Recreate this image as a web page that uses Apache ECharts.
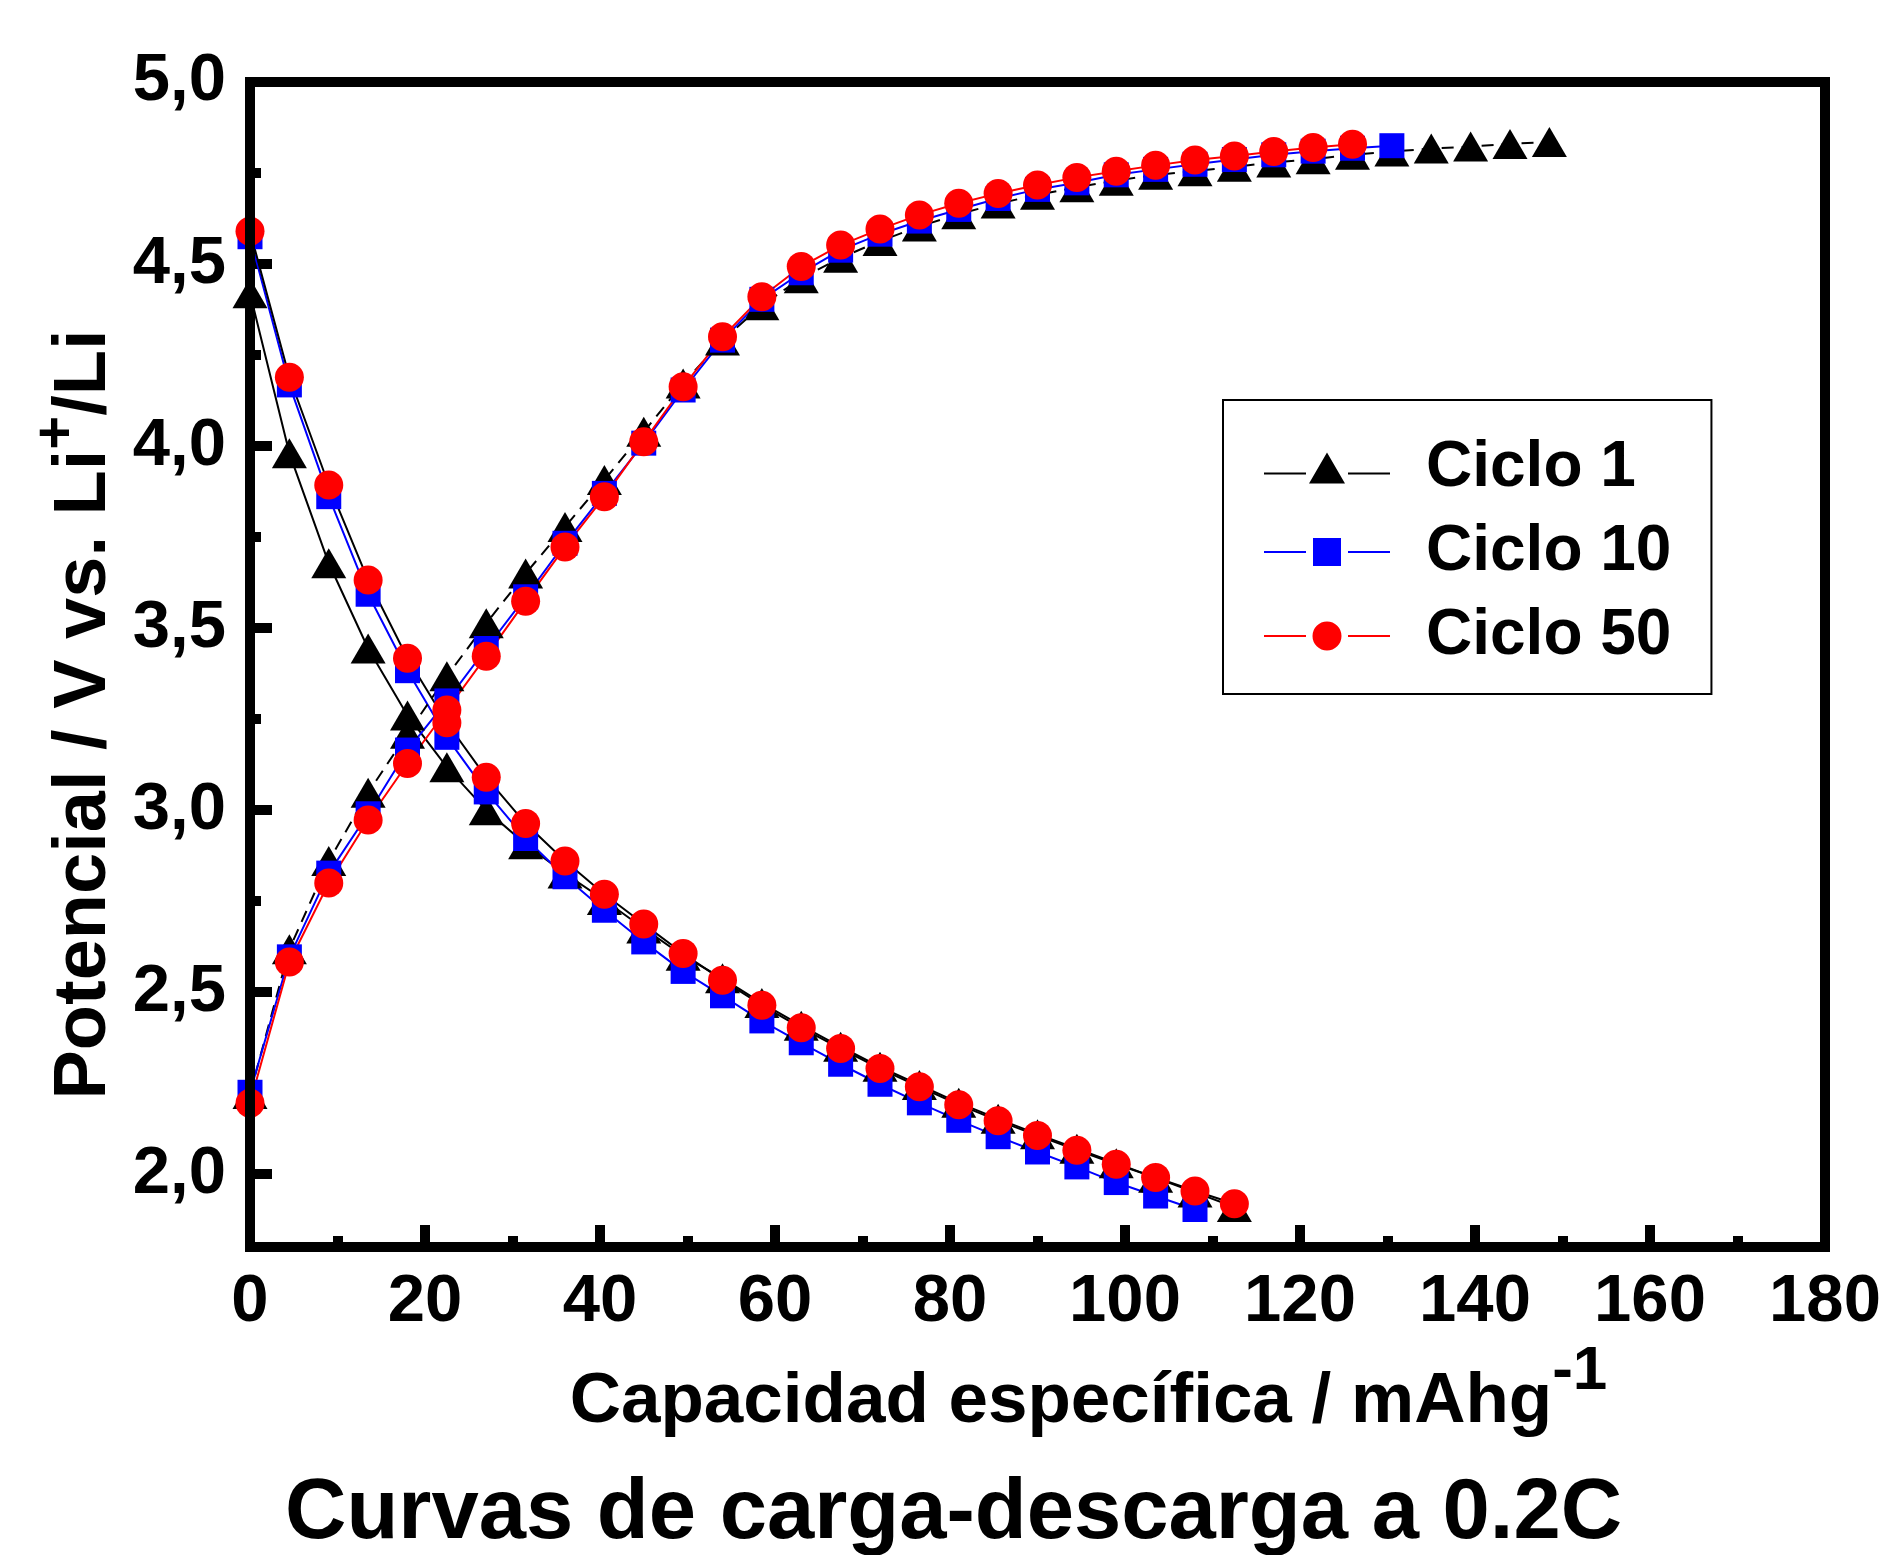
<!DOCTYPE html>
<html>
<head>
<meta charset="utf-8">
<title>Curvas de carga-descarga a 0.2C</title>
<script src="https://cdn.jsdelivr.net/npm/echarts@6/dist/echarts.min.js"></script>
<style>
  html, body { margin: 0; padding: 0; background: #fff; }
  #chart { width: 1884px; height: 1555px; }
</style>
</head>
<body>
<div id="chart"></div>
<script>
// Charge / discharge curves, cycles 1, 10 and 50.
const capacidad = [0, 4.5, 9, 13.5, 18, 22.5, 27, 31.5, 36, 40.5, 45, 49.5, 54, 58.5, 63, 67.5,
  72, 76.5, 81, 85.5, 90, 94.5, 99, 103.5, 108, 112.5, 117, 121.5, 126, 130.5, 135, 139.5, 144, 148.5];

const carga1 = [2.22, 2.618, 2.86, 3.048, 3.21, 3.368, 3.513, 3.65, 3.778, 3.907, 4.039, 4.172, 4.29,
  4.387, 4.461, 4.517, 4.563, 4.603, 4.637, 4.666, 4.69, 4.711, 4.729, 4.745, 4.755, 4.767, 4.779,
  4.788, 4.80, 4.809, 4.817, 4.823, 4.83, 4.835];
const carga10 = [2.225, 2.597, 2.827, 2.99, 3.165, 3.30, 3.444, 3.586, 3.733, 3.87, 4.008, 4.154, 4.291,
  4.403, 4.476, 4.538, 4.582, 4.618, 4.65, 4.68, 4.705, 4.723, 4.745, 4.76, 4.774, 4.787, 4.80, 4.81,
  4.818, 4.825];
const carga50 = [2.195, 2.583, 2.80, 2.973, 3.128, 3.275, 3.423, 3.574, 3.723, 3.861, 4.012, 4.163, 4.30,
  4.41, 4.493, 4.552, 4.596, 4.635, 4.667, 4.694, 4.717, 4.738, 4.755, 4.771, 4.786, 4.797, 4.809,
  4.82, 4.829];

const descarga1 = [4.42, 3.98, 3.678, 3.444, 3.26, 3.118, 3.0, 2.906, 2.826, 2.753, 2.675, 2.60, 2.538,
  2.47, 2.408, 2.35, 2.295, 2.245, 2.196, 2.152, 2.11, 2.07, 2.03, 1.99, 1.95, 1.91];
const descarga10 = [4.575, 4.168, 3.861, 3.593, 3.383, 3.20, 3.05, 2.922, 2.817, 2.725, 2.638, 2.557, 2.49,
  2.421, 2.361, 2.302, 2.247, 2.196, 2.148, 2.103, 2.061, 2.02, 1.977, 1.94, 1.903];
const descarga50 = [4.59, 4.189, 3.893, 3.632, 3.417, 3.24, 3.09, 2.963, 2.86, 2.769, 2.687, 2.606, 2.533,
  2.464, 2.402, 2.345, 2.29, 2.24, 2.191, 2.147, 2.106, 2.066, 2.027, 1.991, 1.954, 1.919];

const ciclos = ['Ciclo 1', 'Ciclo 10', 'Ciclo 50'];
const yTicks = [2, 2.5, 3, 3.5, 4, 4.5, 5];
const yMinorTicks = [2.75, 3.25, 3.75, 4.25, 4.75];

// legend icons: line - marker - line, drawn as one filled path
const iconTri = 'path://M0 20L42 20L42 22L0 22Z M84 20L126 20L126 22L84 22Z M45 31L63 0L81 31Z';
const iconSq = 'path://M0 13L42 13L42 15L0 15Z M84 13L126 13L126 15L84 15Z M49 0L77 0L77 28L49 28Z';
const iconCirc = 'path://M0 13.5L42 13.5L42 15.5L0 15.5Z M84 13.5L126 13.5L126 15.5L84 15.5Z ' +
  'M48.5 14.5A14.5 14.5 0 1 0 77.5 14.5A14.5 14.5 0 1 0 48.5 14.5Z';

const FONT = '"Liberation Sans", Arial, sans-serif';

function pares(ys) {
  return ys.map((y, i) => [capacidad[i], y]);
}

function serie(name, ys, color, symbol, size, lineColor, dashed) {
  return {
    name, type: 'line', data: pares(ys),
    symbol, symbolSize: size,
    itemStyle: { color },
    lineStyle: { color: lineColor || color, width: 2, type: dashed ? [12, 8] : 'solid' },
    emphasis: { disabled: true },
  };
}

const chart = echarts.init(document.getElementById('chart'), null, { renderer: 'canvas' });

chart.setOption({
  animation: false,
  backgroundColor: '#fff',
  textStyle: { fontFamily: FONT },
  title: {
    text: 'Curvas de carga-descarga a 0.2C',
    left: 285, top: 1472, padding: 0,
    textStyle: { fontFamily: FONT, fontSize: 85, fontWeight: 'bold', color: '#000', lineHeight: 85 },
  },
  grid: {
    left: 250, right: 59, top: 82, bottom: 308,
    show: true, borderWidth: 10, borderColor: '#000', z: 10,
  },
  legend: {
    orient: 'vertical', left: 1223, top: 400,
    padding: [36, 40, 26, 41],
    backgroundColor: '#fff', borderColor: '#000', borderWidth: 2,
    itemWidth: 126, itemHeight: 36, itemGap: 20,
    symbolKeepAspect: true,
    selectedMode: false,
    textStyle: { fontFamily: FONT, fontSize: 64, fontWeight: 'bold', color: '#000', lineHeight: 64, padding: [0, 0, 0, 31] },
    data: [
      { name: ciclos[0], icon: iconTri },
      { name: ciclos[1], icon: iconSq },
      { name: ciclos[2], icon: iconCirc },
    ],
  },
  xAxis: {
    type: 'value', min: 0, max: 180, interval: 20,
    name: '{m|Capacidad específica / mAhg}{s|-1}',
    nameLocation: 'middle', nameGap: 100,
    nameTextStyle: {
      fontFamily: FONT, fontSize: 71, fontWeight: 'bold', color: '#000', padding: [0, 0, 0, 102],
      rich: {
        m: { fontFamily: FONT, fontSize: 71, fontWeight: 'bold', color: '#000', lineHeight: 71, verticalAlign: 'bottom' },
        s: { fontFamily: FONT, fontSize: 62, fontWeight: 'bold', color: '#000', lineHeight: 62, verticalAlign: 'bottom', padding: [0, 0, 35, 0] },
      },
    },
    axisLine: { show: false },
    axisTick: { inside: true, length: 22, lineStyle: { width: 10, color: '#000' } },
    minorTick: { show: true, splitNumber: 2, length: 11, lineStyle: { width: 10, color: '#000' } },
    axisLabel: { margin: 22, fontFamily: FONT, fontSize: 67, fontWeight: 'bold', color: '#000' },
    splitLine: { show: false },
  },
  yAxis: [
    {
      type: 'value', min: 1.8, max: 5,
      name: '{m|Potencial / V vs. Li}{s|+}{m|/Li}',
      nameLocation: 'middle', nameGap: 128,
      nameTextStyle: {
        fontFamily: FONT, fontSize: 74, fontWeight: 'bold', color: '#000', padding: [0, 100, 0, 0],
        rich: {
          m: { fontFamily: FONT, fontSize: 74, fontWeight: 'bold', color: '#000', lineHeight: 74, verticalAlign: 'bottom' },
          s: { fontFamily: FONT, fontSize: 58, fontWeight: 'bold', color: '#000', lineHeight: 58, verticalAlign: 'bottom', padding: [0, 0, 35, 0] },
        },
      },
      axisLine: { show: false },
      axisTick: { inside: true, length: 22, customValues: yTicks, lineStyle: { width: 10, color: '#000' } },
      axisLabel: {
        margin: 24, customValues: yTicks,
        fontFamily: FONT, fontSize: 67, fontWeight: 'bold', color: '#000',
        formatter: (v) => v.toFixed(1).replace('.', ','),
      },
      splitLine: { show: false },
    },
    {
      type: 'value', min: 1.8, max: 5, position: 'left',
      axisLine: { show: false },
      axisTick: { inside: true, length: 11, customValues: yMinorTicks, lineStyle: { width: 10, color: '#000' } },
      axisLabel: { show: false },
      splitLine: { show: false },
    },
  ],
  series: [
    serie(ciclos[0], descarga1, '#000', 'triangle', [35, 30]),
    serie(ciclos[1], descarga10, '#0000ff', 'rect', 25),
    serie(ciclos[2], descarga50, '#ff0000', 'circle', 29, '#000'),
    serie(ciclos[0], carga1, '#000', 'triangle', [35, 30], null, true),
    serie(ciclos[1], carga10, '#0000ff', 'rect', 25),
    serie(ciclos[2], carga50, '#ff0000', 'circle', 29),
  ],
});
</script>
</body>
</html>
